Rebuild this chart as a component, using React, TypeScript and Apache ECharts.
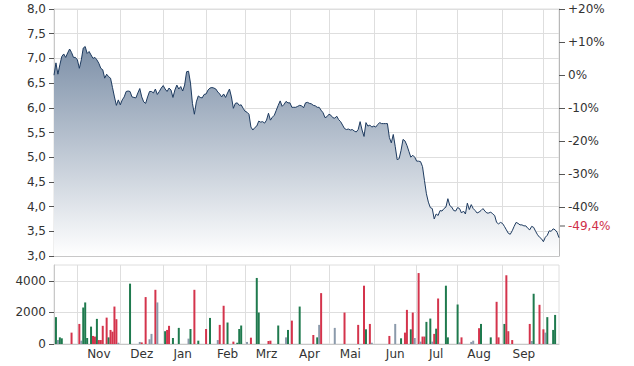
import React, { useEffect, useRef } from "react";
import * as echarts from "echarts";

const startDate = "2022-10-14";

const closePrices = [
  6.66, 6.91, 6.68, 6.87, 7.04, 7.09, 7.02, 7.11, 7.19, 7.12,
  7.02, 7.02, 6.97, 6.80, 6.97, 7.21, 7.24, 7.10, 7.14, 7.07,
  7.00, 7.02, 6.97, 6.90, 6.80, 6.77, 6.60, 6.68, 6.63, 6.60,
  6.41, 6.22, 6.05, 6.16, 6.06, 6.16, 6.22, 6.33, 6.34, 6.33,
  6.22, 6.21, 6.20, 6.30, 6.39, 6.22, 6.12, 6.09, 6.22, 6.33,
  6.33, 6.30, 6.38, 6.27, 6.33, 6.40, 6.45, 6.38, 6.33, 6.40,
  6.36, 6.21, 6.36, 6.46, 6.38, 6.43, 6.34, 6.46, 6.73, 6.74,
  6.50, 6.09, 5.87, 6.12, 6.24, 6.21, 6.20, 6.27, 6.28, 6.36,
  6.40, 6.41, 6.40, 6.38, 6.32, 6.28, 6.22, 6.28, 6.21, 6.30,
  6.38, 6.22, 5.99, 6.09, 6.10, 6.05, 6.06, 5.99, 5.93, 5.91,
  5.87, 5.61, 5.55, 5.60, 5.63, 5.73, 5.71, 5.72, 5.69, 5.75,
  5.89, 5.75, 5.81, 5.85, 5.95, 6.05, 6.14, 6.03, 6.07, 6.13,
  6.10, 6.10, 6.01, 6.01, 6.01, 6.03, 6.05, 6.04, 6.00, 6.10,
  6.11, 6.09, 6.08, 6.05, 6.04, 6.01, 6.01, 5.95,
  5.90, 5.80, 5.82, 5.87, 5.85, 5.80, 5.79, 5.83, 5.76, 5.72,
  5.65, 5.58, 5.56, 5.57, 5.55, 5.56, 5.53, 5.51, 5.56, 5.72,
  5.55, 5.42, 5.70, 5.63, 5.65, 5.61, 5.63, 5.61, 5.66, 5.70,
  5.68, 5.68, 5.68, 5.68, 5.40, 5.29, 5.46, 5.22, 4.95, 4.97,
  5.14, 5.36, 5.33, 5.24, 5.12, 5.00, 5.04, 5.00, 4.92, 4.92,
  4.91, 4.81, 4.53, 4.26, 4.09, 3.98, 3.96,
  3.75, 3.85, 3.82, 3.92, 3.91, 3.96, 3.99, 4.16, 4.02, 3.99,
  3.92, 3.91, 3.98, 3.96, 3.87, 3.91, 3.85, 4.07, 3.94, 4.04,
  3.96, 3.92, 3.87, 3.89, 3.92, 3.96, 3.91, 3.87, 3.87, 3.89,
  3.85, 3.82, 3.68, 3.65, 3.68, 3.66, 3.60, 3.53, 3.46, 3.44,
  3.51, 3.60, 3.68, 3.66, 3.63, 3.63, 3.61, 3.61, 3.56, 3.53,
  3.60, 3.58, 3.50, 3.43, 3.38, 3.35, 3.29, 3.38, 3.42, 3.51,
  3.50, 3.55, 3.53, 3.48, 3.37,
];

// [trading-day index, volume]
const volumeUp = [
  [1, 1700], [3, 420], [4, 360], [15, 2310], [16, 2630], [17, 380], [19, 1100],
  [22, 1590], [28, 420], [39, 3820], [57, 810], [61, 380], [64, 1020], [70, 950],
  [74, 210], [80, 1650], [89, 1360], [94, 80], [95, 950], [96, 1170], [104, 4180],
  [105, 1990], [115, 1170], [120, 890], [126, 2370], [135, 420], [160, 930],
  [178, 360], [183, 930], [191, 1400], [193, 1610], [196, 970], [201, 3690],
  [202, 420], [207, 2500], [219, 1270], [224, 420], [231, 1270], [246, 3180],
  [253, 1700], [256, 890], [257, 1840],
];
const volumeDown = [
  [9, 720], [13, 1270], [20, 510], [21, 470], [23, 250], [24, 250], [25, 1150],
  [27, 1670], [29, 890], [30, 780], [31, 2370], [32, 1570], [45, 100], [47, 2970],
  [52, 3430], [58, 890], [59, 1150], [72, 3430], [78, 950], [85, 1210], [87, 2420],
  [92, 150], [101, 400], [110, 190], [111, 210], [122, 1480], [133, 570],
  [137, 3220], [149, 1990], [156, 1210], [159, 3690], [162, 1270], [172, 510],
  [180, 720], [181, 2160], [184, 1990], [187, 4490], [189, 470], [190, 470],
  [195, 640], [197, 2880], [209, 420], [218, 1000], [227, 2670], [228, 420],
  [232, 4350], [233, 810], [235, 250], [244, 1270], [249, 2480], [251, 930],
];
const volumeFlat = [
  [2, 250], [14, 210], [33, 80], [44, 130], [49, 300], [50, 640], [53, 2630],
  [69, 340], [84, 250], [99, 130], [119, 420], [136, 1210], [144, 1020], [163, 80],
  [175, 1270], [185, 380], [188, 150], [194, 150], [208, 100], [214, 130],
  [215, 210], [245, 190], [252, 720],
];

const monthNames = ["Jan", "Feb", "Mrz", "Apr", "Mai", "Jun", "Jul", "Aug", "Sep", "Okt", "Nov", "Dez"];
const percentTicks = [20, 10, 0, -10, -20, -30, -40];
const volumeTicks = [0, 2000, 4000];

const FONT = "DejaVu Sans";

function tradingDays(start: string, n: number): string[] {
  const out: string[] = [];
  const d = new Date(start + "T00:00:00Z");
  while (out.length < n) {
    const wd = d.getUTCDay();
    if (wd !== 0 && wd !== 6) out.push(d.toISOString().slice(0, 10));
    d.setUTCDate(d.getUTCDate() + 1);
  }
  return out;
}

export default function App() {
  const ref = useRef<HTMLDivElement>(null);

  useEffect(() => {
    if (!ref.current) return;
    const chart = echarts.init(ref.current, undefined, { renderer: "svg" });
    const n = closePrices.length;
    const dates = tradingDays(startDate, n);
    const monthOf = (s: string) => s.slice(0, 7);
    const monthStart = dates.map((s, i) => i > 0 && monthOf(s) !== monthOf(dates[i - 1]));
    const seenStart: Record<string, boolean> = {};
    dates.forEach((s, i) => { if (monthStart[i]) seenStart[monthOf(s)] = true; });
    const midLabel = dates.map((s, i) => {
      const day = +s.slice(8, 10);
      const prevDay = i > 0 && monthOf(dates[i - 1]) === monthOf(s) ? +dates[i - 1].slice(8, 10) : 0;
      return !!seenStart[monthOf(s)] && day >= 16 && prevDay < 16;
    });

    const base = closePrices[0];
    const last = closePrices[n - 1];
    const pctMin = (3 / base - 1) * 100;
    const pctMax = (8 / base - 1) * 100;
    const lastPct = ((last / base - 1) * 100).toFixed(1).replace(".", ",") + "%";

    const volData: any[] = new Array(n).fill("-");
    const put = (arr: number[][], color: string) =>
      arr.forEach(([i, v]) => { volData[i] = { value: v, itemStyle: { color } }; });
    put(volumeFlat, "#8b9aab");
    put(volumeUp, "#1f7a4e");
    put(volumeDown, "#d4344c");

    const labelStyle = { color: "#333", fontSize: 12, fontFamily: FONT };
    const gridLine = { lineStyle: { color: "#dedede", width: 1 } };

    chart.setOption({
      animation: false,
      grid: [
        { left: 54, right: 75, top: 9, height: 247, show: true, borderColor: "#dedede", borderWidth: 1 },
        { left: 54, right: 75, top: 265, height: 79, show: true, borderColor: "#dedede", borderWidth: 1 },
      ],
      xAxis: [
        {
          type: "category", gridIndex: 0, data: dates, boundaryGap: false,
          axisLine: { show: true, onZero: false, lineStyle: { color: "#c8c8c8" } },
          axisTick: { show: false }, axisLabel: { show: false },
          splitLine: { show: true, interval: (i: number) => monthStart[i], ...gridLine },
        },
        {
          type: "category", gridIndex: 1, data: dates, boundaryGap: false,
          axisLine: { show: true, onZero: false, lineStyle: { color: "#c8c8c8" } },
          axisTick: { show: false },
          axisLabel: {
            ...labelStyle, margin: 4,
            interval: (i: number) => midLabel[i],
            formatter: (v: string) => monthNames[+v.slice(5, 7) - 1],
          },
          splitLine: { show: true, interval: (i: number) => monthStart[i], ...gridLine },
        },
      ],
      yAxis: [
        {
          type: "value", gridIndex: 0, min: 3, max: 8, interval: 0.5,
          axisLine: { show: true, lineStyle: { color: "#c8c8c8" } },
          axisTick: { show: true, length: 5, lineStyle: { color: "#555" } },
          axisLabel: { ...labelStyle, margin: 8, formatter: (v: number) => v.toFixed(1).replace(".", ",") },
          splitLine: { show: true, ...gridLine },
        },
        {
          type: "value", gridIndex: 0, position: "right", min: pctMin, max: pctMax,
          axisLine: { show: true, lineStyle: { color: "#b8b8b8" } },
          axisTick: { show: true, length: 6, customValues: percentTicks, lineStyle: { color: "#555" } },
          axisLabel: {
            ...labelStyle, margin: 9, customValues: percentTicks,
            formatter: (v: number) => (v > 0 ? "+" : "") + Math.round(v) + "%",
          },
          splitLine: { show: false },
        },
        {
          type: "value", gridIndex: 1, min: 0, max: 5000,
          axisLine: { show: true, lineStyle: { color: "#c8c8c8" } },
          axisTick: { show: true, length: 5, customValues: volumeTicks, lineStyle: { color: "#555" } },
          axisLabel: { ...labelStyle, margin: 8, customValues: volumeTicks, formatter: (v: number) => String(Math.round(v)) },
          splitLine: { show: true, ...gridLine },
        },
      ],
      series: [
        {
          type: "line", xAxisIndex: 0, yAxisIndex: 0, data: closePrices,
          showSymbol: false, symbol: "none",
          lineStyle: { color: "#1d3a5f", width: 1 },
          areaStyle: {
            origin: "start", opacity: 1,
            color: new echarts.graphic.LinearGradient(0, 0, 0, 1, [
              { offset: 0, color: "#7d90a8" },
              { offset: 1, color: "#ffffff" },
            ]),
          },
        },
        {
          type: "bar", xAxisIndex: 1, yAxisIndex: 2, data: volData, barWidth: 2,
        },
      ],
      graphic: [
        { type: "line", shape: { x1: 559, y1: 226, x2: 565, y2: 226 }, style: { stroke: "#555", lineWidth: 1 } },
        {
          type: "text", x: 568, y: 226,
          style: { text: lastPct, fill: "#d0304a", font: `12px "${FONT}"`, verticalAlign: "middle", align: "left" },
        },
      ],
    });
    return () => chart.dispose();
  }, []);

  return (
    <div
      ref={ref}
      style={{ position: "absolute", left: 0, top: 0, width: 634, height: 366, background: "#fff" }}
    />
  );
}
